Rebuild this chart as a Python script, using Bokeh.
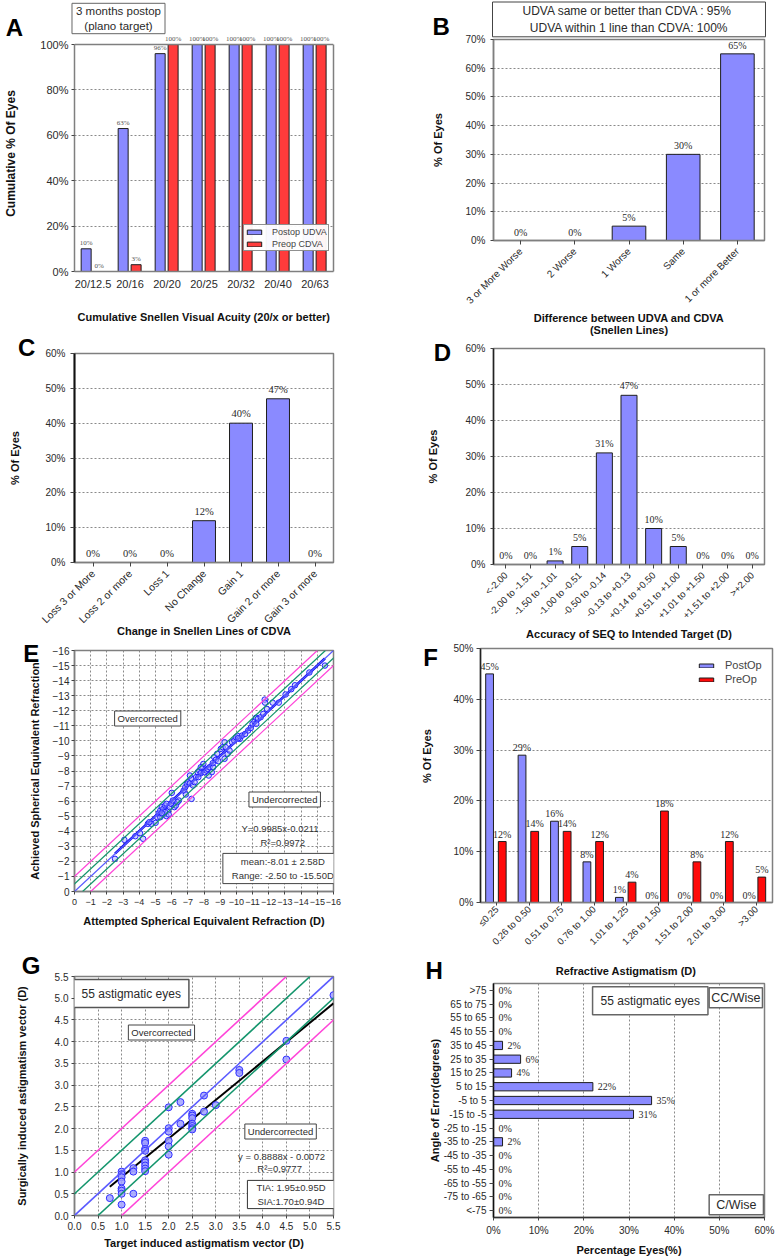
from math import pi
from bokeh.plotting import figure
from bokeh.models import (FactorRange, Range1d, ColumnDataSource, LabelSet, Label, LinearAxis,
                          FixedTicker, PrintfTickFormatter, Slope, Span)
from bokeh.transform import dodge
from bokeh.layouts import row, column
from bokeh.embed import file_html
from bokeh.resources import INLINE

# ---------------- data ----------------
cats_A = ["20/12.5", "20/16", "20/20", "20/25", "20/32", "20/40", "20/63"]
postop_udva = [10, 63, 96, 100, 100, 100, 100]
preop_cdva = [0, 3, 100, 100, 100, 100, 100]

cats_B = ["3 or More Worse", "2 Worse", "1 Worse", "Same", "1 or more Better"]
vals_B = [0, 0, 5, 30, 65]

cats_C = ["Loss 3 or More", "Loss 2 or more", "Loss 1", "No Change", "Gain 1",
          "Gain 2 or more", "Gain 3 or more"]
vals_C = [0, 0, 0, 12, 40, 47, 0]

cats_D = ["<-2.00", "-2.00 to -1.51", "-1.50 to -1.01", "-1.00 to -0.51", "-0.50 to -0.14",
          "-0.13 to +0.13", "+0.14 to +0.50", "+0.51 to +1.00", "+1.01 to +1.50",
          "+1.51 to +2.00", ">+2.00"]
vals_D = [0, 0, 1, 5, 31, 47, 10, 5, 0, 0, 0]

attempted_se = [-2.50, -3.08, -3.76, -4.05, -4.24, -4.53, -4.76, -5.01, -5.20, -5.30,
                -5.39, -5.49, -5.59, -5.68, -5.49, -5.68, -5.78, -5.88, -5.97, -6.01,
                -6.07, -6.17, -6.26, -5.11, -5.30, -6.45, -6.74, -6.84, -6.94, -7.03,
                -7.13, -7.23, -7.23, -7.32, -7.42, -7.51, -7.61, -7.71, -7.80, -7.90,
                -7.96, -8.03, -8.15, -8.23, -8.34, -8.48, -8.57, -8.63, -8.73, -8.81,
                -8.88, -9.04, -9.15, -9.27, -9.27, -9.46, -9.58, -9.73, -9.87, -9.98,
                -10.08, -10.21, -10.35, -10.54, -10.73, -10.89, -11.00, -11.12, -11.21, -11.33,
                -11.50, -11.66, -11.75, -11.77, -11.89, -12.24, -12.62, -13.04, -13.39, -13.62,
                -14.51, -15.47, -4.62, -5.82, -6.36, -6.88, -7.65, -8.29, -8.54, -9.34,
                -10.12, -11.23, -5.59, -5.39, -7.80, -7.13]
achieved_se = [-2.17, -3.43, -3.67, -3.87, -3.50, -4.49, -4.49, -4.56, -5.20, -5.38,
               -5.60, -5.49, -5.71, -5.82, -5.11, -5.00, -5.38, -5.60, -5.82, -6.55,
               -6.04, -5.60, -5.71, -4.93, -4.93, -6.04, -6.70, -6.92, -7.15, -7.26,
               -7.19, -7.48, -6.15, -7.04, -7.26, -7.59, -7.92, -8.03, -7.85, -8.25,
               -8.47, -7.92, -8.03, -8.14, -8.25, -7.92, -8.25, -8.92, -8.74, -9.14,
               -8.65, -9.47, -9.58, -9.91, -8.81, -9.14, -9.36, -9.91, -10.02, -10.24,
               -10.33, -10.13, -10.35, -10.46, -10.69, -10.86, -11.13, -11.28, -11.53, -11.46,
               -11.57, -11.79, -12.74, -12.54, -12.12, -12.54, -12.54, -13.08, -13.43, -13.69,
               -14.54, -15.00, -4.60, -5.11, -5.93, -6.44, -7.59, -7.70, -8.52, -9.58,
               -10.18, -11.13, -5.27, -5.20, -8.25, -7.70]
se_fit = (0.9985, -0.0211)

cats_F = ["\u22640.25", "0.26 to 0.50", "0.51 to 0.75", "0.76 to 1.00", "1.01 to 1.25",
          "1.26 to 1.50", "1.51 to 2.00", "2.01 to 3.00", ">3.00"]
postop_F = [45, 29, 16, 8, 1, 0, 0, 0, 0]
preop_F = [12, 14, 14, 12, 4, 18, 8, 12, 5]

tia = [0.75, 1.0, 1.0, 1.0, 1.0, 1.0, 1.0, 1.0, 1.0, 1.25, 1.25, 1.25,
       1.5, 1.5, 1.5, 1.5, 1.5, 1.5, 1.5, 1.5, 1.5, 2.0, 2.0, 2.0, 2.0, 2.0, 2.0,
       2.25, 2.25, 2.5, 2.5, 2.5, 2.5, 2.5, 2.5, 2.5, 2.75, 2.75, 3.0, 3.5, 3.5, 4.5, 4.5, 5.5]
sia = [0.40, 1.01, 0.95, 0.88, 0.78, 0.62, 0.57, 0.50, 0.25, 1.09, 1.01, 0.50,
       1.72, 1.67, 1.53, 1.49, 1.27, 1.22, 1.15, 1.08, 1.02, 2.49, 2.01, 1.93, 1.72, 1.59, 1.40,
       2.61, 2.11, 2.34, 2.30, 2.24, 2.11, 2.06, 2.01, 1.98, 2.76, 2.39, 2.54, 3.35, 3.28, 4.02, 3.59, 5.07]
sia_fit = (0.8888, -0.0072)

cats_H = [">75", "65 to 75", "55 to 65", "45 to 55", "35 to 45", "25 to 35", "15 to 25",
          "5 to 15", "-5 to 5", "-15 to -5", "-25 to -15", "-35 to -25", "-45 to -35",
          "-55 to -45", "-65 to -55", "-75 to -65", "<-75"]
vals_H = [0, 0, 0, 0, 2, 6, 4, 22, 35, 31, 0, 2, 0, 0, 0, 0, 0]

band_offsets = [(-1.0, "#ff44d8"), (-0.5, "#13956c"), (0.0, "#5a5aff"), (0.5, "#13956c"), (1.0, "#ff44d8")]

# ---------------- style ----------------
FONT = "Liberation Sans"
BLUE = "#8a8aff"
RED_A = "#ff3b3b"
RED_F = "#ff0a0a"
EDGE = "#1e1e1e"
FRAME = "#7f7f7f"
GRID = "#8a8a8a"
TXT = "#2a2a2a"


class Panel:
    def __init__(self, canvas, frame, xspan, yspan, **kw):
        cx, cy, w, h = canvas
        fx0, fy0, fx1, fy1 = frame
        self.frame, self.xspan, self.yspan = frame, xspan, yspan
        self.p = figure(width=w, height=h, min_border_left=fx0 - cx, min_border_right=cx + w - fx1,
                        min_border_top=fy0 - cy, min_border_bottom=cy + h - fy1,
                        toolbar_location=None, output_backend="svg", title=None, **kw)
        p = self.p
        p.outline_line_color = FRAME
        p.outline_line_width = 1.5
        p.background_fill_color = "white"
        p.border_fill_color = "white"
        for ax in (p.xaxis[0], p.yaxis[0]):
            ax.major_label_text_font = FONT
            ax.major_label_text_color = TXT
            ax.axis_label_text_font = FONT
            ax.axis_label_text_font_style = "bold"
            ax.axis_label_text_color = "#111"
            ax.axis_label_text_font_size = "11px"
            ax.minor_tick_line_color = None
            ax.major_tick_in = 0
            ax.major_tick_out = 3
            ax.major_tick_line_color = "#444"
            ax.axis_line_color = FRAME
            ax.axis_line_width = 1.5
        p.xgrid.grid_line_color = None
        p.ygrid.grid_line_color = None

    def at(self, rx, ry):
        fx0, fy0, fx1, fy1 = self.frame
        x0, x1 = self.xspan
        y0, y1 = self.yspan
        return (x0 + (rx - fx0) / (fx1 - fx0) * (x1 - x0),
                y0 + (fy1 - ry) / (fy1 - fy0) * (y1 - y0))

    def note(self, rx, ry, text, size, bold=False, box=False, pad=(0, 0), color=TXT,
             bc="#555", bw=1, side=None, lh=1.2, angle=0.0):
        x, y = self.at(rx, ry)
        kw = dict(x=x, y=y, text=text, text_font=FONT, text_font_size=f"{size}px",
                  text_font_style="bold" if bold else "normal", text_align="center",
                  text_baseline="middle", text_color=color, text_line_height=lh, angle=angle)
        if box:
            kw.update(border_line_color=bc, border_line_width=bw, background_fill_color="white",
                      padding=dict(left=pad[0], right=pad[0], top=pad[1], bottom=pad[1]))
        lab = Label(**kw)
        if side:
            self.p.add_layout(lab, side)
        else:
            self.p.add_layout(lab)

    def letter(self, rx, ry, t, side=None):
        self.note(rx, ry, t, 24, bold=True, color="black", side=side, lh=0.8)


class Gutter(Panel):
    """A plain strip (no axes) whose frame is the whole canvas, for free-standing texts."""
    def __init__(self, canvas):
        cx, cy, w, h = canvas
        self.frame, self.xspan, self.yspan = (cx, cy, cx + w, cy + h), (0, w), (0, h)
        self.p = figure(width=w, height=h, min_border=0, toolbar_location=None,
                        output_backend="svg", title=None, x_axis_type=None, y_axis_type=None,
                        x_range=Range1d(0, w), y_range=Range1d(0, h))
        self.p.outline_line_color = None
        self.p.grid.grid_line_color = None
        self.p.background_fill_color = "white"
        self.p.border_fill_color = "white"


def ygrid(p):
    p.ygrid.grid_line_color = GRID
    p.ygrid.grid_line_dash = "2 2"
    p.ygrid.grid_line_width = 1


def xgrid(p):
    p.xgrid.grid_line_color = GRID
    p.xgrid.grid_line_dash = "2 2"
    p.xgrid.grid_line_width = 1


def pct_axis(ax, top, step):
    ax.ticker = FixedTicker(ticks=list(range(0, top + 1, step)))
    ax.formatter = PrintfTickFormatter(format="%d%%")


# ---------------- A ----------------
A = Panel((0, 0, 388, 330), (74, 35, 333, 271), (0, 7), (0, 104),
          x_range=FactorRange(*cats_A), y_range=Range1d(0, 104))
p = A.p
p.outline_line_color = None
srcA = ColumnDataSource(dict(cat=cats_A, u=postop_udva, c=preop_cdva,
                             ul=[f"{v}%" for v in postop_udva], cl=[f"{v}%" for v in preop_cdva]))
p.vbar(x=dodge("cat", -0.185, range=p.x_range), top="u", width=0.27, source=srcA,
       fill_color=BLUE, line_color=EDGE, line_width=1, legend_label="Postop UDVA")
p.vbar(x=dodge("cat", 0.165, range=p.x_range), top="c", width=0.27, source=srcA,
       fill_color=RED_A, line_color=EDGE, line_width=1, legend_label="Preop CDVA")
for off, fld in ((-0.185, "ul"), (0.165, "cl")):
    p.add_layout(LabelSet(x=dodge("cat", off, range=p.x_range), y=fld[0], text=fld, source=srcA,
                          text_font=FONT, text_font_size="7px", text_color="#555",
                          text_align="center", text_baseline="bottom", y_offset=2))
ygrid(p)
pct_axis(p.yaxis[0], 100, 20)
p.yaxis.bounds = (0, 100)
p.add_layout(Span(location=100, dimension="width", line_color=FRAME, line_width=1.5))
p.add_layout(LinearAxis(ticker=FixedTicker(ticks=[]), bounds=(0, 100), axis_line_color=FRAME,
                        axis_line_width=1.5, major_tick_line_color=None, minor_tick_line_color=None,
                        major_tick_out=0, major_label_standoff=0,
                        major_label_text_font_size="0px"), "right")
p.yaxis[0].major_label_text_font_size = "11px"
p.xaxis.major_label_text_font_size = "11px"
p.xaxis.major_tick_out = 0
p.xaxis.major_label_standoff = 6
p.yaxis[0].major_label_standoff = 3
p.yaxis[0].axis_label = "Cumulative % Of Eyes"
p.yaxis[0].axis_label_text_font_size = "12px"
p.yaxis[0].axis_label_standoff = 19
p.xaxis.axis_label = "Cumulative Snellen Visual Acuity (20/x or better)"
p.xaxis.axis_label_standoff = 18
lg = p.legend[0]
lg.location = (169, 20)
lg.label_text_font = FONT
lg.label_text_font_size = "9px"
lg.label_height = 11
lg.glyph_height = 6
lg.glyph_width = 18
lg.spacing = 1
lg.padding = 1
lg.margin = 0
lg.label_standoff = 9
lg.border_line_color = "#222"
lg.border_line_width = 1
A.letter(14, 27, "A", "right")
A.note(118, 18, "3 months postop\n(plano target)", 11.5, box=True, pad=(4, 2), bc="#666",
       side="above")

# ---------------- B ----------------
B = Panel((388, 0, 388, 338), (489, 39, 764, 244), (0, 5), (0, 70),
          x_range=FactorRange(*cats_B), y_range=Range1d(0, 70))
p = B.p
srcB = ColumnDataSource(dict(cat=cats_B, v=vals_B, l=[f"{v}%" for v in vals_B]))
p.vbar(x="cat", top="v", width=0.62, source=srcB, fill_color=BLUE, line_color=EDGE, line_width=1)
p.add_layout(LabelSet(x="cat", y="v", text="l", source=srcB, text_font=FONT, text_font_size="10px",
                      text_color=TXT, text_align="center", text_baseline="bottom", y_offset=3))
ygrid(p)
pct_axis(p.yaxis[0], 70, 10)
p.yaxis.major_label_text_font_size = "10px"
p.xaxis.major_label_text_font_size = "10px"
p.xaxis.major_label_orientation = pi / 4
p.xaxis.major_tick_out = 4
p.yaxis.axis_label = "% Of Eyes"
p.yaxis.axis_label_standoff = 18
p.xaxis.axis_label = "Difference between UDVA and CDVA\n(Snellen Lines)"
p.xaxis.axis_label_text_line_height = 1.0
p.xaxis.axis_label_standoff = -1
B.letter(436, 26, "B", "left")
B.note(626.5, 18.5, "UDVA same or better than CDVA :  95%\nUDVA within 1 line than CDVA: 100%", 12,
       box=True, pad=(30, 2), bc="#444", side="above")

# ---------------- C ----------------
C = Panel((0, 330, 388, 309), (71, 353, 352, 563), (0, 7), (0, 60),
          x_range=FactorRange(*cats_C), y_range=Range1d(0, 60))
p = C.p
srcC = ColumnDataSource(dict(cat=cats_C, v=vals_C, l=[f"{v}%" for v in vals_C]))
p.vbar(x="cat", top="v", width=0.62, source=srcC, fill_color=BLUE, line_color=EDGE, line_width=1)
p.add_layout(LabelSet(x="cat", y="v", text="l", source=srcC, text_font=FONT, text_font_size="10.5px",
                      text_color=TXT, text_align="center", text_baseline="bottom", y_offset=4))
ygrid(p)
pct_axis(p.yaxis[0], 60, 10)
p.yaxis.major_label_text_font_size = "10px"
p.xaxis.major_label_text_font_size = "10.5px"
p.xaxis.major_label_orientation = pi / 4
p.yaxis.axis_line_color = "#111"
p.yaxis.axis_line_width = 2
p.yaxis.major_tick_out = 4
p.xaxis.major_tick_out = 4
p.yaxis.axis_label = "% Of Eyes"
p.yaxis.axis_label_standoff = 21
p.xaxis.axis_label = "Change in Snellen Lines of CDVA"
p.xaxis.axis_label_standoff = -8
C.letter(19, 347, "C", "right")

# ---------------- D ----------------
D = Panel((388, 338, 388, 304), (487, 348, 774, 564), (0, 11), (0, 60),
          x_range=FactorRange(*cats_D), y_range=Range1d(0, 60))
p = D.p
srcD = ColumnDataSource(dict(cat=cats_D, v=vals_D, l=[f"{v}%" for v in vals_D]))
p.vbar(x="cat", top="v", width=0.65, source=srcD, fill_color=BLUE, line_color=EDGE, line_width=1)
p.add_layout(LabelSet(x="cat", y="v", text="l", source=srcD, text_font=FONT, text_font_size="10px",
                      text_color=TXT, text_align="center", text_baseline="bottom", y_offset=4))
ygrid(p)
pct_axis(p.yaxis[0], 60, 10)
p.yaxis.major_label_text_font_size = "10px"
p.xaxis.major_label_text_font_size = "9.5px"
p.xaxis.major_label_orientation = pi / 4
p.yaxis.axis_line_color = "#222"
p.xaxis.major_tick_out = 4
p.yaxis.axis_label = "% Of Eyes"
p.yaxis.axis_label_standoff = 23
p.xaxis.axis_label = "Accuracy of SEQ to Intended Target (D)"
p.xaxis.axis_label_standoff = 0
D.letter(433, 352, "D", "left")

# ---------------- E ----------------
E = Panel((0, 639, 388, 296), (72, 650, 348, 891), (0, -16), (0, -16),
          x_range=Range1d(0, -16), y_range=Range1d(0, -16))
p = E.p
for off, col in band_offsets:
    p.add_layout(Slope(gradient=1, y_intercept=off, line_color=col, line_width=1.2))
xs_fit = [max(attempted_se), min(attempted_se)]
p.line(xs_fit, [se_fit[0] * x + se_fit[1] for x in xs_fit], line_color="#0000ee", line_width=2.5)
p.scatter(attempted_se, achieved_se, marker="circle", size=5.5, fill_color="#a8a8ff", fill_alpha=0.5,
          line_color="#2020ff", line_width=1)
ticksE = list(range(0, -17, -1))
p.xaxis.ticker = FixedTicker(ticks=ticksE)
p.yaxis.ticker = FixedTicker(ticks=ticksE)
xgrid(p)
ygrid(p)
p.xaxis.major_label_text_font_size = "9px"
p.yaxis.major_label_text_font_size = "10px"
p.xaxis.major_label_standoff = 4
p.yaxis.major_label_standoff = 2
p.yaxis.axis_label = "Achieved Spherical Equivalent Refraction"
p.yaxis.axis_label_standoff = 9
p.xaxis.axis_label = "Attempted Spherical Equivalent Refraction (D)"
p.xaxis.axis_label_standoff = 7
E.letter(26, 653, "E", "right")
E.note(150, 718, "Overcorrected", 9.5, box=True, pad=(3, 2), bc="#444")
E.note(296, 799, "Undercorrected", 9.5, box=True, pad=(3, 2), bc="#444")
E.note(291, 828, "Y=0.9985x-0.0211", 9.5, color="#333")
E.note(294, 842, "R\u00b2=0.9972", 9.5, color="#333")
E.note(294, 868, "mean:-8.01 \u00b1 2.58D\nRange: -2.50 to -15.50D", 9.5, box=True, pad=(9, 3),
       bc="#444", color="#333")

# ---------------- F (strip with letter and y title + plot) ----------------
FG = Gutter((388, 642, 52, 314))
FG.letter(430, 653, "F")
FG.note(426, 775, "% Of Eyes", 11, bold=True, color="#111", angle=pi / 2)

F = Panel((440, 642, 336, 314), (480, 648, 772, 902), (0, 9), (0, 50),
          x_range=FactorRange(*cats_F), y_range=Range1d(0, 50))
p = F.p
srcF = ColumnDataSource(dict(cat=cats_F, a=postop_F, b=preop_F,
                             al=[f"{v}%" for v in postop_F], bl=[f"{v}%" for v in preop_F]))
p.vbar(x=dodge("cat", -0.22, range=p.x_range), top="a", width=0.24, source=srcF,
       fill_color=BLUE, line_color=EDGE, line_width=1, legend_label="PostOp")
p.vbar(x=dodge("cat", 0.17, range=p.x_range), top="b", width=0.24, source=srcF,
       fill_color=RED_F, line_color=EDGE, line_width=1, legend_label="PreOp")
for off, fld in ((-0.22, "al"), (0.17, "bl")):
    p.add_layout(LabelSet(x=dodge("cat", off, range=p.x_range), y=fld[0], text=fld, source=srcF,
                          text_font=FONT, text_font_size="10px", text_color=TXT,
                          text_align="center", text_baseline="bottom", y_offset=2))
ygrid(p)
pct_axis(p.yaxis[0], 50, 10)
p.yaxis.major_label_text_font_size = "10px"
p.xaxis.major_label_text_font_size = "9.5px"
p.xaxis.major_label_orientation = pi / 4
p.yaxis.axis_line_color = "#222"
p.xaxis.major_tick_out = 3
p.xaxis.major_label_standoff = 2
p.yaxis.major_tick_out = 4
p.yaxis.major_label_standoff = 3
lg = p.legend[0]
lg.location = (217, 217)
lg.label_text_font = FONT
lg.label_text_font_size = "11px"
lg.label_height = 12
lg.glyph_height = 5
lg.glyph_width = 18
lg.spacing = 2
lg.padding = 2
lg.margin = 0
lg.label_standoff = 10
lg.border_line_color = None
lg.background_fill_alpha = 0

# ---------------- G ----------------
G = Panel((0, 935, 388, 323), (71, 976, 345, 1215), (0, 5.5), (0, 5.5),
          x_range=Range1d(0, 5.5), y_range=Range1d(0, 5.5))
p = G.p
for off, col in band_offsets:
    p.add_layout(Slope(gradient=1, y_intercept=off, line_color=col, line_width=1.6))
xg = [min(tia), max(tia)]
p.line(xg, [sia_fit[0] * x + sia_fit[1] for x in xg], line_color="black", line_width=2)
p.scatter(tia, sia, marker="circle", size=7, fill_color="#a0a0ff", fill_alpha=0.85,
          line_color="#3030ff", line_width=1)
ticksG = [i * 0.5 for i in range(12)]
p.xaxis.ticker = FixedTicker(ticks=ticksG)
p.yaxis.ticker = FixedTicker(ticks=ticksG)
p.xaxis.formatter = PrintfTickFormatter(format="%.1f")
p.yaxis.formatter = PrintfTickFormatter(format="%.1f")
xgrid(p)
ygrid(p)
p.xaxis.major_label_text_font_size = "10px"
p.yaxis.major_label_text_font_size = "10px"
p.xaxis.major_label_standoff = 3
p.yaxis.major_label_standoff = 3
p.yaxis.axis_label = "Surgically induced astigmatism vector (D)"
p.yaxis.axis_label_standoff = 24
p.xaxis.axis_label = "Target induced astigmatism vector (D)"
p.xaxis.axis_label_standoff = 4
G.letter(25, 965, "G", "above")
G.note(131, 993, "55 astigmatic eyes", 12, box=True, pad=(8, 7), bc="#555", bw=1.5)
G.note(163, 1032, "Overcorrected", 9.5, box=True, pad=(3, 2), bc="#444")
G.note(289, 1131, "Undercorrected", 9.5, box=True, pad=(3, 2), bc="#444")
G.note(290, 1156, "y = 0.8888x - 0.0072", 9.5, color="#333")
G.note(288, 1168, "R\u00b2=0.9777", 9.5, color="#333")
G.note(300, 1194, "TIA: 1.95\u00b10.95D\nSIA:1.70\u00b10.94D", 9.5, box=True, pad=(9, 2),
       bc="#333", color="#333")

# ---------------- H ----------------
H = Panel((388, 956, 388, 302), (493, 983, 767, 1221), (0, 60), (0, 17),
          x_range=Range1d(0, 60), y_range=FactorRange(*reversed(cats_H)))
p = H.p
srcH = ColumnDataSource(dict(cat=cats_H, v=vals_H, l=[f"{v}%" for v in vals_H]))
p.hbar(y="cat", right="v", height=0.6, source=srcH, fill_color=BLUE, line_color=EDGE, line_width=1)
p.add_layout(LabelSet(x="v", y="cat", text="l", source=srcH, text_font=FONT, text_font_size="10px",
                      text_color=TXT, text_align="left", text_baseline="middle", x_offset=5))
xgrid(p)
pct_axis(p.xaxis[0], 60, 10)
p.xaxis.major_label_text_font_size = "10px"
p.yaxis.major_label_text_font_size = "10px"
p.yaxis.axis_line_color = "#111"
p.xaxis.axis_line_color = "#333"
p.yaxis.major_tick_out = 4
p.yaxis.major_label_standoff = 3
p.xaxis.major_label_standoff = 4
p.yaxis.axis_label = "Angle of Error(degrees)"
p.yaxis.axis_label_standoff = 0
p.xaxis.axis_label = "Percentage Eyes(%)"
p.xaxis.axis_label_standoff = 5
H.letter(433, 970, "H", "left")
H.note(627, 970, "Refractive Astigmatism (D)", 11, bold=True, color="#111", side="above")
H.note(651.5, 1000.5, "55 astigmatic eyes", 12, box=True, pad=(8, 7), bc="#666", bw=1.5)
H.note(738, 997.5, "CC/Wise", 12.5, box=True, pad=(2, 3), bc="#666", bw=1.5)
H.note(738.5, 1208, "C/Wise", 12.5, box=True, pad=(7, 3), bc="#666", bw=1.5)

layout = row(column(A.p, C.p, E.p, G.p),
             column(B.p, D.p, row(FG.p, F.p), H.p))
open("out.html", "w").write(file_html(layout, INLINE))
